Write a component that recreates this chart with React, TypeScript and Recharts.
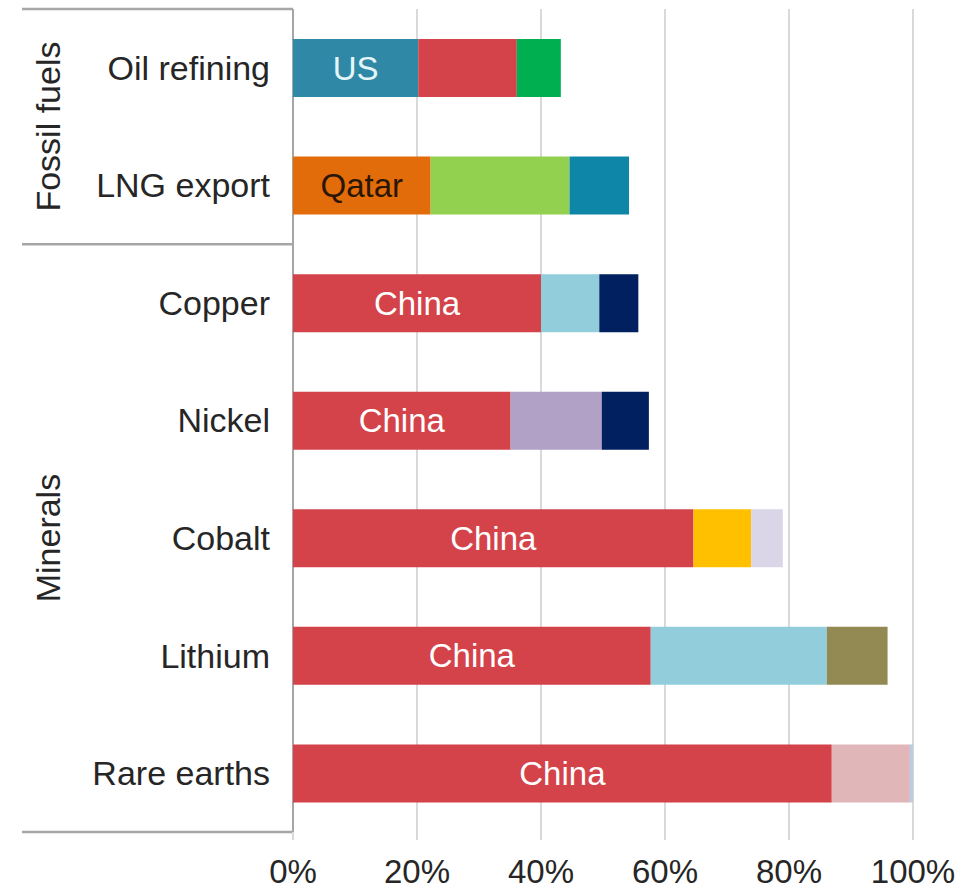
import React from 'react';
import { BarChart, Bar, XAxis, YAxis, CartesianGrid, Cell, LabelList, Customized } from 'recharts';

const categories = ['Oil refining', 'LNG export', 'Copper', 'Nickel', 'Cobalt', 'Lithium', 'Rare earths'];
const leaderNames = ['US', 'Qatar', 'China', 'China', 'China', 'China', 'China'];
const leaderShare = [20.2, 22.2, 40.0, 35.1, 64.6, 57.7, 86.9];
const secondShare = [15.9, 22.4, 9.4, 14.7, 9.3, 28.4, 12.6];
const thirdShare = [7.1, 9.6, 6.3, 7.6, 5.1, 9.8, 0];
const fourthShare = [0, 0, 0, 0, 0, 0, 0.5];

const leaderColors = ['#2F89A6', '#E36C0A', '#D4434A', '#D4434A', '#D4434A', '#D4434A', '#D4434A'];
const secondColors = ['#D4434A', '#92D050', '#92CDDC', '#B2A1C7', '#FFC000', '#92CDDC', '#E0B6B8'];
const thirdColors = ['#00B050', '#0E86A8', '#002060', '#002060', '#DAD5E7', '#938953', '#ffffff'];
const fourthColors = ['#B8CCE4', '#B8CCE4', '#B8CCE4', '#B8CCE4', '#B8CCE4', '#B8CCE4', '#B8CCE4'];
const labelColors = ['#E4F6FA', '#2A1606', '#FFFFFF', '#FFFFFF', '#FFFFFF', '#FFFFFF', '#FFFFFF'];

const groups = [
  { name: 'Fossil fuels', count: 2 },
  { name: 'Minerals', count: 5 },
];

const xTicks = [0, 20, 40, 60, 80, 100];

const data = categories.map((c, i) => ({
  name: c,
  leaderName: leaderNames[i],
  a: leaderShare[i],
  b: secondShare[i],
  c: thirdShare[i],
  d: fourthShare[i],
}));

const W = 973;
const H = 891;
const M = { top: 9, right: 60, bottom: 0, left: 0 };
const Y_W = 293;
const X_H = 59;
const FONT = '"Liberation Sans", Arial, sans-serif';
const TEXT = '#262626';

const plotTop = M.top;
const plotBottom = H - M.bottom - X_H;
const band = (plotBottom - plotTop) / categories.length;

const Decor = () => {
  const left = 22;
  const right = Y_W;
  const stroke = '#A6A6A6';
  const lines: React.ReactNode[] = [];
  let idx = 0;
  const bounds = [plotTop];
  groups.forEach((g) => {
    idx += g.count;
    bounds.push(plotTop + idx * band);
  });
  bounds.forEach((y, i) => {
    lines.push(<line key={'h' + i} x1={left} x2={right} y1={y} y2={y} stroke={stroke} strokeWidth={2.5} />);
  });
  lines.push(<line key="v" x1={right} x2={right} y1={plotTop} y2={plotBottom} stroke={stroke} strokeWidth={2} />);
  let start = 0;
  groups.forEach((g, i) => {
    const cy = plotTop + (start + g.count / 2) * band;
    start += g.count;
    lines.push(
      <text
        key={'g' + i}
        x={48}
        y={cy}
        transform={`rotate(-90, 48, ${cy})`}
        textAnchor="middle"
        dy="0.35em"
        fontSize={34}
        fontFamily={FONT}
        fill={TEXT}
      >
        {g.name}
      </text>
    );
  });
  return <g>{lines}</g>;
};

const YTick = (props: any) => {
  const { x, y, payload } = props;
  return (
    <text x={x} y={y} dy="0.35em" textAnchor="end" fontSize={34} fontFamily={FONT} fill={TEXT}>
      {payload.value}
    </text>
  );
};

const LeaderLabel = (props: any) => {
  const { x, y, width, height, index, value } = props;
  return (
    <text
      x={x + width / 2}
      y={y + height / 2}
      dy="0.35em"
      textAnchor="middle"
      fontSize={33}
      fontFamily={FONT}
      fill={labelColors[index]}
    >
      {value}
    </text>
  );
};

export default function App() {
  return (
    <div style={{ position: 'absolute', left: 0, top: 0, width: W, height: H, background: '#fff' }}>
      <BarChart
        width={W}
        height={H}
        data={data}
        layout="vertical"
        margin={M}
        barSize={58}
      >
        <CartesianGrid horizontal={false} vertical={true} stroke="#D9D9D9" strokeWidth={2} />
        <XAxis
          type="number"
          domain={[0, 100]}
          ticks={xTicks}
          tickFormatter={(v: number) => `${v}%`}
          axisLine={false}
          tickLine={{ stroke: '#D9D9D9', strokeWidth: 2 }}
          tickSize={8}
          tickMargin={20}
          height={X_H}
          interval={0}
          tick={{ fontSize: 33, fontFamily: FONT, fill: TEXT }}
        />
        <YAxis
          type="category"
          dataKey="name"
          width={Y_W}
          axisLine={false}
          tickLine={false}
          tickSize={6}
          tickMargin={17}
          tick={<YTick />}
          interval={0}
        />
        <Bar dataKey="a" stackId="s" isAnimationActive={false}>
          {data.map((_, i) => (
            <Cell key={i} fill={leaderColors[i]} />
          ))}
          <LabelList dataKey="leaderName" content={<LeaderLabel />} />
        </Bar>
        <Bar dataKey="b" stackId="s" isAnimationActive={false}>
          {data.map((_, i) => (
            <Cell key={i} fill={secondColors[i]} />
          ))}
        </Bar>
        <Bar dataKey="c" stackId="s" isAnimationActive={false}>
          {data.map((_, i) => (
            <Cell key={i} fill={thirdColors[i]} />
          ))}
        </Bar>
        <Bar dataKey="d" stackId="s" isAnimationActive={false}>
          {data.map((_, i) => (
            <Cell key={i} fill={fourthColors[i]} />
          ))}
        </Bar>
        <Customized component={<Decor />} />
      </BarChart>
    </div>
  );
}
